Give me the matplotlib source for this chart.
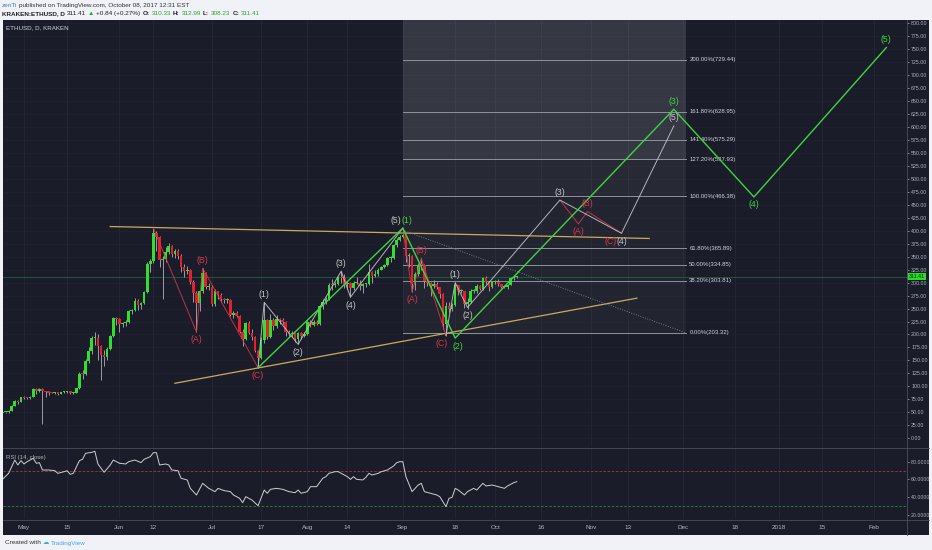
import numpy as np
import pandas as pd
import matplotlib
matplotlib.use('Agg')
import matplotlib.pyplot as plt
import matplotlib.dates as mdates
from matplotlib.patches import Rectangle

plt.rcParams['font.family'] = ['Liberation Sans', 'DejaVu Sans']

# daily ETHUSD candles (Kraken), Apr 24 - Oct 8 2017
first_open = 48.5
closes = [49.8, 50.0, 53.3, 63.0, 72.4, 69.6, 79.8,
          77.5, 77.0, 80.3, 94.8, 90.8, 94.8, 90.5,
          88.4, 88.2, 88.0, 88.7, 86.0, 88.4, 89.0,
          90.2, 87.1, 87.6, 96.0, 124.0, 123.5, 148.0,
          169.0, 193.0, 194.0, 177.0, 160.0, 156.0, 172.0,
          197.0, 231.0, 230.0, 221.0, 222.5, 224.0, 245.0,
          247.0, 264.0, 257.0, 260.0, 281.0, 336.0, 341.0,
          395.0, 388.0, 344.0, 345.0, 359.0, 371.0, 356.0,
          361.0, 352.0, 330.0, 322.0, 325.0, 302.0, 280.0,
          260.0, 283.0, 318.0, 292.0, 292.0, 259.0, 283.0,
          276.0, 268.0, 266.0, 266.0, 238.0, 241.0, 236.0,
          205.0, 191.0, 223.0, 203.0, 196.0, 169.0, 155.0,
          190.0, 227.0, 195.0, 228.0, 216.0, 230.0, 227.0,
          225.0, 205.0, 201.0, 202.0, 191.0, 203.0, 198.0,
          201.0, 225.0, 218.0, 224.0, 220.0, 254.0, 263.0,
          268.0, 296.0, 295.0, 298.0, 310.0, 308.0, 297.0,
          299.0, 289.0, 300.0, 300.0, 293.0, 297.0, 298.0,
          320.0, 313.0, 317.0, 325.0, 330.0, 333.0, 347.0,
          347.0, 372.0, 383.0, 388.0, 391.0, 351.0, 352.0,
          297.0, 317.0, 334.0, 333.0, 303.0, 300.0, 294.0,
          298.0, 292.0, 278.0, 221.0, 255.0, 249.0, 256.0,
          295.0, 283.0, 283.0, 258.0, 263.0, 283.0, 283.0,
          294.0, 288.0, 309.0, 302.0, 292.0, 302.0, 302.0,
          297.0, 292.0, 292.0, 296.0, 308.0, 310.5, 311.41]
highs = [50.5, 51.0, 54.5, 65.0, 74.0, 74.5, 80.5,
         81.0, 79.5, 81.5, 96.5, 97.0, 96.0, 96.5,
         92.0, 90.0, 89.5, 90.0, 89.5, 89.5, 90.5,
         91.5, 91.0, 89.5, 97.5, 128.0, 132.0, 152.0,
         176.0, 198.0, 205.0, 200.0, 180.0, 170.0, 175.0,
         199.0, 233.0, 234.0, 232.0, 225.0, 227.0, 247.0,
         250.0, 270.0, 268.0, 262.0, 283.0, 340.0, 346.0,
         405.0, 400.0, 390.0, 352.0, 368.0, 377.0, 373.0,
         364.0, 365.0, 355.0, 335.0, 332.0, 327.0, 305.0,
         284.0, 285.0, 328.0, 320.0, 300.0, 295.0, 288.0,
         284.0, 280.0, 270.0, 270.0, 268.0, 245.0, 246.0,
         238.0, 210.0, 225.0, 226.0, 210.0, 198.0, 171.0,
         195.0, 262.0, 230.0, 240.0, 232.0, 238.0, 232.0,
         232.0, 226.0, 208.0, 206.0, 204.0, 205.0, 205.0,
         204.0, 228.0, 228.0, 227.0, 228.0, 257.0, 268.0,
         272.0, 300.0, 307.0, 302.0, 313.0, 322.0, 316.0,
         303.0, 302.0, 303.0, 310.0, 305.0, 300.0, 300.0,
         335.0, 322.0, 325.0, 328.0, 332.0, 336.0, 349.0,
         352.0, 374.0, 386.0, 392.0, 405.0, 392.0, 357.0,
         353.0, 320.0, 338.0, 347.0, 335.0, 308.0, 301.0,
         305.0, 302.0, 292.0, 279.0, 262.0, 262.0, 260.0,
         300.0, 296.0, 288.0, 284.0, 270.0, 287.0, 288.0,
         297.0, 296.0, 311.0, 313.0, 303.0, 304.0, 305.0,
         306.0, 298.0, 296.0, 297.0, 310.0, 313.0, 312.99]
lows = [47.5, 48.8, 49.5, 52.8, 62.0, 66.0, 69.0,
        75.0, 75.5, 76.5, 80.0, 85.0, 88.5, 28.0,
        80.0, 84.0, 86.5, 86.0, 83.0, 85.0, 87.0,
        88.0, 85.0, 86.0, 87.0, 95.5, 115.0, 122.0,
        145.0, 162.0, 180.0, 150.0, 112.0, 140.0, 150.0,
        170.0, 195.0, 219.0, 204.0, 215.0, 216.0, 222.0,
        239.0, 246.0, 248.0, 250.0, 258.0, 279.0, 320.0,
        337.0, 360.0, 330.0, 268.0, 340.0, 355.0, 350.0,
        348.0, 345.0, 320.0, 310.0, 316.0, 298.0, 263.0,
        205.0, 245.0, 280.0, 287.0, 285.0, 254.0, 255.0,
        268.0, 262.0, 260.0, 261.0, 236.0, 232.0, 233.0,
        203.0, 178.0, 190.0, 200.0, 190.0, 167.0, 136.0,
        152.0, 183.0, 192.0, 194.0, 208.0, 212.0, 220.0,
        220.0, 198.0, 196.0, 196.0, 186.0, 181.0, 192.0,
        195.0, 199.0, 215.0, 216.0, 218.0, 219.0, 250.0,
        259.0, 266.0, 285.0, 292.0, 296.0, 300.0, 290.0,
        288.0, 272.0, 285.0, 297.0, 285.0, 280.0, 292.0,
        296.0, 300.0, 310.0, 312.0, 324.0, 328.0, 332.0,
        340.0, 345.0, 369.0, 380.0, 386.0, 340.0, 330.0,
        282.0, 285.0, 313.0, 325.0, 290.0, 293.0, 275.0,
        289.0, 288.0, 270.0, 210.0, 198.0, 243.0, 245.0,
        254.0, 276.0, 279.0, 252.0, 250.0, 260.0, 280.0,
        280.0, 285.0, 286.0, 298.0, 284.0, 290.0, 297.0,
        294.0, 289.0, 289.0, 288.0, 295.0, 305.0, 308.23]

# RSI(14) readings: day index from Apr 24, value
rsi_idx = [0, 2, 4, 5, 6, 7, 8, 10, 11, 12, 13, 15, 17, 18, 20, 21, 22, 23, 25, 26,
           27, 29, 30, 31, 33, 35, 36, 38, 40, 41, 43, 45, 46, 48, 49, 50, 51, 53, 54, 55,
           57, 58, 60, 61, 63, 65, 67, 69, 70, 72, 74, 75, 77, 78, 79, 81, 83, 85, 86, 87,
           89, 91, 93, 95, 96, 97, 99, 100, 102, 104, 105, 106, 108, 109, 110, 112, 113, 114, 115, 117,
           118, 119, 120, 122, 123, 125, 127, 128, 129, 130, 131, 133, 135, 136, 137, 139, 141, 142, 144, 145,
           146, 147, 148, 150, 151, 153, 154, 156, 157, 159, 161, 163, 164, 166, 167]
rsi_vals = [60.0, 66.8, 81.9, 76.3, 81.2, 77.4, 80.0, 83.8, 78.2, 78.9, 70.6, 70.6, 69.8, 66.8, 68.7, 69.8, 65.7, 66.8, 81.2, 82.7,
            89.5, 90.6, 91.8, 77.4, 68.0, 76.3, 81.9, 78.2, 77.4, 80.0, 81.9, 78.9, 82.7, 85.7, 90.2, 90.2, 76.3, 77.4, 76.3, 70.6,
            69.8, 61.2, 59.3, 49.8, 42.3, 55.5, 49.8, 46.1, 49.8, 47.2, 46.1, 42.3, 38.5, 33.6, 40.4, 36.6, 30.2, 47.9, 44.2, 48.7,
            49.8, 48.7, 46.1, 44.9, 47.9, 44.2, 46.1, 51.7, 51.7, 61.2, 63.0, 66.8, 68.7, 68.7, 66.8, 63.0, 60.0, 63.0, 60.0, 59.3,
            62.3, 66.8, 64.9, 66.8, 68.7, 70.6, 75.1, 78.9, 80.0, 80.0, 63.0, 46.1, 53.6, 55.5, 46.1, 44.2, 42.3, 40.4, 29.1, 38.5,
            39.6, 49.8, 47.9, 42.3, 46.1, 49.8, 47.9, 55.5, 52.5, 53.6, 51.7, 49.8, 52.5, 56.2, 57.4]

fib_names = ['0.00%', '38.20%', '50.00%', '61.80%', '100.00%', '127.20%', '141.40%', '161.80%', '200.00%']
fib_prices = [203.32, 303.81, 334.85, 365.89, 466.38, 537.93, 575.29, 628.95, 729.44]
fib_start, fib_end = '2017-09-01', '2017-12-02'

# Elliott wave drawings
green_dates = ['2017-07-16', '2017-09-01', '2017-09-18', '2017-11-28', '2017-12-24', '2018-02-05']
green_prices = [136, 405, 193, 634, 465, 753]
green_labels = ['', '(1)', '(2)', '(3)', '(4)', '(5)']

gray1_dates = ['2017-07-16', '2017-07-18', '2017-07-29', '2017-08-12', '2017-08-15', '2017-09-01']
gray1_prices = [136, 262, 181, 322, 272, 405]
gray1_labels = ['', '(1)', '(2)', '(3)', '(4)', '(5)']

gray2_dates = ['2017-09-15', '2017-09-18', '2017-09-22', '2017-10-22', '2017-11-11', '2017-11-28']
gray2_prices = [198, 300, 252, 459, 395, 602]
gray2_labels = ['', '(1)', '(2)', '(3)', '(4)', '(5)']

red1_dates = ['2017-06-12', '2017-06-26', '2017-06-28', '2017-07-16']
red1_prices = [405, 205, 328, 136]
red2_dates = ['2017-09-01', '2017-09-04', '2017-09-07', '2017-09-15']
red2_prices = [405, 282, 347, 198]
red3_dates = ['2017-10-22', '2017-10-28', '2017-10-31', '2017-11-11']
red3_prices = [459, 413, 437, 395]
abc_labels = ['', '(A)', '(B)', '(C)']

upper_trend_dates = ['2017-05-29', '2017-11-20']
upper_trend_prices = [408, 385]
lower_trend_dates = ['2017-06-19', '2017-11-16']
lower_trend_prices = [106, 270]
dotted_dates = ['2017-09-01', '2017-12-02']
dotted_prices = [401, 203]

last_price = 311.41

xtick_dates = ['2017-05-01', '2017-05-15', '2017-06-01', '2017-06-12', '2017-07-01', '2017-07-17',
               '2017-08-01', '2017-08-14', '2017-09-01', '2017-09-18', '2017-10-01', '2017-10-16',
               '2017-11-01', '2017-11-13', '2017-12-01', '2017-12-18', '2018-01-01', '2018-01-15',
               '2018-02-01']
xtick_labels = ['May', '15', 'Jun', '12', 'Jul', '17', 'Aug', '14', 'Sep', '18', 'Oct', '16',
                'Nov', '13', 'Dec', '18', '2018', '15', 'Feb']

# ---- colours ----
BG = '#1a1d29'
TXT = '#b2b5be'
GREEN = '#2fe02f'
RED = '#e4202e'
WAVE_G = '#3fd43f'
WAVE_W = '#c4c4c4'
WAVE_R = '#d8364a'
GOLD = '#cca95e'

W, H = 932, 550


def fx(x):
    return x / W


def fy(y):
    return 1 - y / H


def dn(s):
    return mdates.date2num(pd.Timestamp(s))


fig = plt.figure(figsize=(9.32, 5.5), dpi=100)
fig.patch.set_facecolor('#f0f2f7')
fig.patches.append(Rectangle((fx(3), fy(535)), fx(926), 515 / H, transform=fig.transFigure,
                             facecolor=BG, edgecolor='none', zorder=-10))

ax = fig.add_axes([fx(3), fy(447), fx(904), 427 / H])
rax = fig.add_axes([fx(3), fy(519), fx(904), 71 / H], sharex=ax)
for a in (ax, rax):
    a.set_facecolor(BG)
    for s in a.spines.values():
        s.set_visible(False)

dates = pd.date_range('2017-04-24', periods=len(closes))
xd = mdates.date2num(dates)
opens = np.array([first_open] + closes[:-1])
closes_a = np.array(closes)
up = closes_a >= opens

may1 = dn('2017-05-01')
ax.set_xlim(may1 - 6.82, may1 + 286.7)
ax.set_ylim(-16.8, 806)
rax.set_ylim(15.1, 95.5)

# grid
xt = [dn(d) for d in xtick_dates]
for a in (ax, rax):
    for v in xt:
        a.axvline(v, color='#242837', lw=0.6, zorder=0)
for p in range(0, 825, 25):
    ax.axhline(p, color='#20232f', lw=0.5, zorder=0)

# fibonacci box
x0, x1 = dn(fib_start), dn(fib_end)
ax.add_patch(Rectangle((x0, fib_prices[0]), x1 - x0, fib_prices[4] - fib_prices[0],
                       facecolor='white', alpha=0.035, edgecolor='none', zorder=1))
ax.add_patch(Rectangle((x0, fib_prices[4]), x1 - x0, fib_prices[5] - fib_prices[4],
                       facecolor='white', alpha=0.06, edgecolor='none', zorder=1))
ax.add_patch(Rectangle((x0, fib_prices[5]), x1 - x0, 806 - fib_prices[5],
                       facecolor='white', alpha=0.12, edgecolor='none', zorder=1))
for name, p in zip(fib_names, fib_prices):
    ax.plot([x0, x1], [p, p], color='#8e929c', lw=0.7, zorder=2)
    ax.text(x1 + 1, p, '%s(%.2f)' % (name, p), color='#d1d4dc', fontsize=4.3,
            va='center', ha='left', zorder=5)

# last price line
ax.axhline(last_price, color='#23613f', lw=0.6, zorder=1)

# candles
ax.vlines(xd, lows, highs, color='#9a9da6', lw=0.7, zorder=3)
body_lo = np.minimum(opens, closes_a)
body_h = np.maximum(np.abs(closes_a - opens), 2.0)
ax.bar(xd, body_h, bottom=body_lo, width=0.85,
       color=np.where(up, GREEN, RED), edgecolor='none', zorder=4)

# trendlines
ax.plot([dn(d) for d in upper_trend_dates], upper_trend_prices, color=GOLD, lw=0.9, zorder=5)
ax.plot([dn(d) for d in lower_trend_dates], lower_trend_prices, color=GOLD, lw=0.9, zorder=5)
ax.plot([dn(d) for d in dotted_dates], dotted_prices, color='#777b86', lw=0.7, ls=(0, (1, 1.5)), zorder=5)


def wave(dl, pl, labels, color, lw, alpha, dx=None, fs=6.3):
    xs = [dn(d) for d in dl]
    ax.plot(xs, pl, color=color, lw=lw, alpha=alpha, zorder=6)
    dx = dx or [0] * len(xs)
    for i, (x, p, lab) in enumerate(zip(xs, pl, labels)):
        if not lab:
            continue
        above = p > pl[i - 1]
        ax.annotate(lab, (x, p), xytext=(dx[i], 2.5 if above else -2.5), textcoords='offset points',
                    ha='center', va='bottom' if above else 'top', color=color,
                    fontsize=fs, zorder=7)


wave(red1_dates, red1_prices, abc_labels, WAVE_R, 0.7, 0.85)
wave(red2_dates, red2_prices, abc_labels, WAVE_R, 0.7, 0.85, dx=[0, 0, 0, -3])
wave(red3_dates, red3_prices, abc_labels, WAVE_R, 0.7, 0.85, dx=[0, 0, 0, -8])
wave(gray1_dates, gray1_prices, gray1_labels, WAVE_W, 0.7, 0.9, dx=[0, 0, 0, 0, 0, -5])
wave(gray2_dates, gray2_prices, gray2_labels, WAVE_W, 0.7, 0.9)
wave(green_dates, green_prices, green_labels, WAVE_G, 1.0, 1.0, dx=[0, 3, 2, 0, 0, 0])

# price axis on the right
ax.yaxis.tick_right()
ax.set_yticks(np.arange(0, 801, 25))
ax.set_yticklabels(['%.2f' % v for v in np.arange(0, 801, 25)])
ax.tick_params(axis='y', colors=TXT, labelsize=3.8, length=1.5, width=0.5, pad=1.5)
ax.tick_params(axis='x', bottom=False, labelbottom=False)
ax.text(1.002, last_price, '%.2f' % last_price, transform=ax.get_yaxis_transform(),
        fontsize=3.8, color='#0d1a0d', va='center', ha='left', zorder=10,
        bbox=dict(boxstyle='square,pad=0.25', facecolor='#22e022', edgecolor='none'))
ax.text(0.003, 0.988, 'ETHUSD, D, KRAKEN', transform=ax.transAxes, color='#d1d4dc',
        fontsize=4.5, va='top', ha='left')

# RSI pane
rax.plot([xd[i] for i in rsi_idx], rsi_vals, color='#cfcfcf', lw=0.7, zorder=4)
rax.axhline(70, color='#b0344e', lw=0.6, ls=(0, (3, 2)), zorder=3)
rax.axhline(30, color='#2e8a3c', lw=0.6, ls=(0, (3, 2)), zorder=3)
rax.yaxis.tick_right()
rax.set_yticks([20, 40, 60, 80])
rax.set_yticklabels(['%.4f' % v for v in [20, 40, 60, 80]])
rax.tick_params(axis='y', colors=TXT, labelsize=3.8, length=1.5, width=0.5, pad=1.5)
rax.set_xticks(xt)
rax.set_xticklabels(xtick_labels)
rax.tick_params(axis='x', colors=TXT, labelsize=4.6, length=0, pad=4)
rax.text(0.003, 0.86, 'RSI (14, close)', transform=rax.transAxes, color=TXT,
         fontsize=4.3, va='center', ha='left')

# pane separators
fig.add_artist(plt.Line2D([fx(907), fx(907)], [fy(20), fy(535)], color='#4a4e5a', lw=0.6))
for y_ in (447.5, 519.5):
    fig.add_artist(plt.Line2D([fx(3), fx(929)], [fy(y_), fy(y_)], color='#4a4e5a', lw=0.6))

# header, laid out left to right
fig.canvas.draw()
renderer = fig.canvas.get_renderer()


def text_run(x_start, y, parts, fs=4.6):
    x = x_start
    for s, c, w in parts:
        t = fig.text(fx(x), fy(y), s, color=c, fontsize=fs, fontweight=w, va='center', ha='left')
        x += t.get_window_extent(renderer).width + 2


text_run(2, 5.5, [('zenTi', '#3d7fd6', 'normal'),
                  ('published on TradingView.com, October 08, 2017 12:31 EST', '#333333', 'normal')])
text_run(2, 13.5, [('KRAKEN:ETHUSD, D', '#222222', 'bold'), ('311.41', '#222222', 'normal'),
                   ('\u25b2', '#2aa82a', 'normal'), ('+0.84 (+0.27%)', '#222222', 'normal'),
                   ('O:', '#222222', 'bold'), ('310.33', '#2aa82a', 'normal'),
                   ('H:', '#222222', 'bold'), ('312.99', '#2aa82a', 'normal'),
                   ('L:', '#222222', 'bold'), ('308.23', '#2aa82a', 'normal'),
                   ('C:', '#222222', 'bold'), ('311.41', '#2aa82a', 'normal')])
text_run(5, 543, [('Created with', '#333333', 'normal'), ('\u2601', '#3babe3', 'normal'),
                  ('TradingView', '#3babe3', 'normal')])

fig.savefig('out.png', dpi=100, facecolor=fig.get_facecolor())
